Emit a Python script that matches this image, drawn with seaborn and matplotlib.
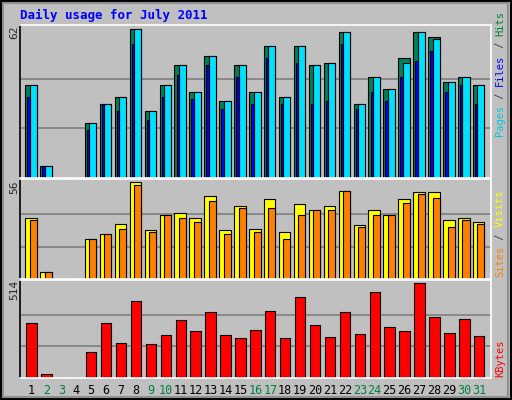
import numpy as np
import matplotlib
matplotlib.use("Agg")
import matplotlib.pyplot as plt
import seaborn as sns

days = np.arange(1, 32)
hits = [39, 5, 0, 0, 23, 31, 34, 62, 28, 39, 47, 36, 51, 32, 47, 36, 55, 34, 55, 47, 48, 61, 31, 42, 37, 50, 61, 59, 40, 42, 39]
files = [39, 5, 0, 0, 23, 31, 34, 62, 28, 39, 47, 36, 51, 32, 47, 36, 55, 34, 55, 47, 48, 61, 31, 42, 37, 48, 61, 58, 40, 42, 39]
pages = [34, 5, 0, 0, 20, 31, 28, 56, 24, 34, 43, 33, 47, 29, 42, 31, 50, 31, 48, 31, 32, 56, 29, 36, 32, 42, 49, 53, 36, 39, 31]
sites = [35, 4, 0, 0, 23, 26, 32, 56, 28, 37, 38, 35, 48, 28, 42, 29, 46, 27, 43, 40, 42, 51, 31, 40, 37, 46, 50, 50, 34, 35, 33]
visits = [34, 4, 0, 0, 23, 26, 29, 54, 27, 37, 35, 33, 45, 26, 41, 27, 41, 23, 37, 40, 40, 51, 30, 37, 37, 44, 49, 47, 30, 34, 32]
kbytes = [295, 19, 0, 0, 143, 295, 188, 418, 182, 233, 311, 255, 356, 233, 216, 261, 362, 216, 435, 289, 221, 356, 238, 463, 278, 255, 514, 328, 244, 317, 227]
weekend = [2, 3, 9, 10, 16, 17, 23, 24, 30, 31]

sns.set_style("white")
plt.rcParams['font.family'] = ['DejaVu Sans Mono']

GREY = "#C0C0C0"
fig = plt.figure(figsize=(5.12, 4.0), dpi=100)
fig.patch.set_facecolor(GREY)
W, H = 512, 400


def panel(top, bottom):
    ax = fig.add_axes([20 / W, 1 - bottom / H, 471 / W, (bottom - top) / H])
    ax.set_facecolor(GREY)
    ax.set_xlim(0.13, 31.69)
    for s in ax.spines.values():
        s.set_color("white")
        s.set_linewidth(1.2)
    ax.spines["left"].set_color("black")
    ax.set_xticks([])
    ax.set_yticks([])
    return ax


def grid(ax, vmax):
    ax.set_ylim(0, vmax * 1.03)
    for f in (1 / 3, 2 / 3):
        ax.axhline(vmax * f, color="#808080", lw=1.2, zorder=0)


kw = dict(align="edge", edgecolor="black", linewidth=0.8)
d = days.astype(float)

ax1 = panel(25, 178)
grid(ax1, max(hits))
ax1.bar(d - 0.52, hits, width=0.77, color="#00805C", **kw)
ax1.bar(d - 0.22, files, width=0.47, color="#00E0FF", **kw)
ax1.bar(d - 0.38, pages, width=0.16, color="#0000FF", **kw)

ax2 = panel(179, 279)
grid(ax2, max(sites))
ax2.bar(d - 0.52, sites, width=0.77, color="#FFFF00", **kw)
ax2.bar(d - 0.22, visits, width=0.47, color="#FF8000", **kw)

ax3 = panel(280, 378)
grid(ax3, max(kbytes))
ax3.bar(d - 0.45, kbytes, width=0.7, color="#FF0000", **kw)

for day in days:
    ax3.text(day - 0.1, -0.13, str(day), transform=ax3.get_xaxis_transform(),
             ha="center", va="center", fontsize=8.5,
             color="#008040" if day in weekend else "black")

fig.text(20 / W, 1 - 15 / H, "Daily usage for July 2011", color="#0000FF",
         fontsize=9, fontweight="bold", va="center")

for txt, y in (("62", 32), ("56", 187), ("514", 290)):
    fig.text(14 / W, 1 - y / H, txt, rotation=90, ha="center", va="center", fontsize=8)


# stack rotated labels from bottom upward
def side_up(parts, ybottom, fs=7.5):
    adv = 0.602 * fs * 100 / 72
    y = ybottom
    for txt, col in parts:
        fig.text(500 / W, 1 - y / H, txt, rotation=90, ha="center", va="bottom",
                 color=col, fontsize=fs)
        y -= len(txt) * adv


side_up([("Pages", "#00C8E0"), (" / ", "#404040"), ("Files", "#0000FF"), (" / ", "#404040"), ("Hits", "#008040")], 136)
side_up([("Sites", "#FF8000"), (" / ", "#404040"), ("Visits", "#FFFF00")], 277)
side_up([("KBytes", "#FF0000")], 377)

# outer bevel border
fig.add_artist(plt.Rectangle((0.002, 0.002), 0.996, 0.996, transform=fig.transFigure,
                             fill=False, edgecolor="black", lw=1.5))
fig.add_artist(plt.Rectangle((0.006, 0.008), 0.986, 0.985, transform=fig.transFigure,
                             fill=False, edgecolor="#909090", lw=1.5))

fig.savefig("out.png", dpi=100, facecolor=GREY)
